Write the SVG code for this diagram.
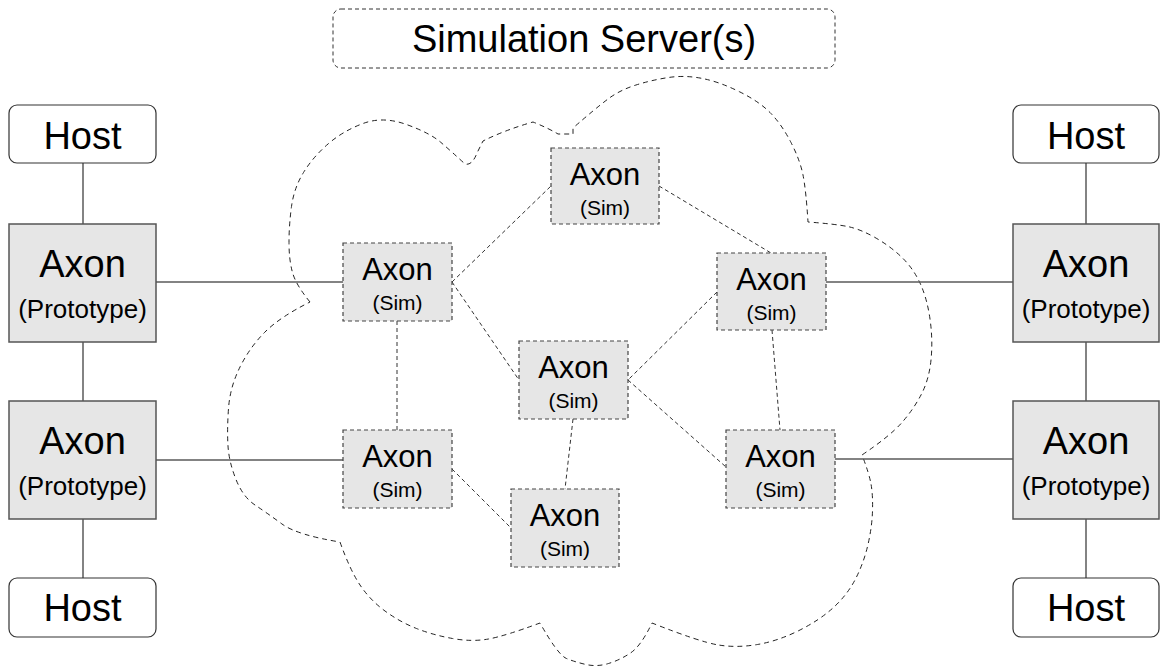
<svg xmlns="http://www.w3.org/2000/svg" width="1161" height="668" viewBox="0 0 1161 668">
<style>
text{font-family:"Liberation Sans",Arial,sans-serif;fill:#000;text-anchor:middle}
.host{fill:#fff;stroke:#333;stroke-width:1.2}
.proto{fill:#e6e6e6;stroke:#555;stroke-width:1.5}
.sim{fill:#e6e6e6;stroke:#444;stroke-width:1.2;stroke-dasharray:4 3}
.solid{stroke:#5a5a5a;stroke-width:1.5;fill:none}
.dash{stroke:#333;stroke-width:1;stroke-dasharray:4 3;fill:none}
.cloud{stroke:#222;stroke-width:1;stroke-dasharray:5 4;fill:none}
.big{font-size:38px}
.proto2{font-size:26px}
.ax{font-size:31px}
.sm{font-size:21px}
</style>
<rect width="1161" height="668" fill="#fff"/>
<g id="cloud">
<path class="cloud" d="M310,302 Q296,285 292.5,272.5 Q289,260 289,242.5 Q289,225 291.5,206.5 Q294,188 303.5,172.5 Q313,157 328,144 Q343,131 363,123.5 Q383,116 406.5,124.5 Q430,133 441,142.5 Q452,152 465,164 Q472,166 477,153 L483,141 Q505,130 533,122 Q548,128 558,134 L573,134 L573,128 Q596,108 608,99 Q620,90 636,85 Q652,80 668.5,77.5 Q685,75 702.5,78.5 Q720,82 740,92 Q760,102 771,113.5 Q782,125 791,142.5 Q800,160 803,175 Q806,190 808,222 Q835,224 847.5,226.5 Q860,229 875,237.5 Q890,246 901.5,257 Q913,268 920,283 Q927,298 930,319 Q933,340 931,360 Q929,380 921,395 Q913,410 901.5,423 Q890,436 862,455 Q869,473 871,484 Q873,495 872.5,511 Q872,527 868,544.5 Q864,562 856,578 Q848,594 834,607 Q820,620 799,630.5 Q778,641 757.5,644.5 Q737,648 718.5,645 Q700,642 652,623 Q641,646 630.5,653 Q620,660 608.5,663.5 Q597,667 586,664.5 Q575,662 566.5,658.5 Q558,655 540,623 Q505,636 488.5,639 Q472,642 452.5,638.5 Q433,635 416.5,628.5 Q400,622 385,611 Q370,600 360,585 Q350,570 340,542 Q297,535 282,524 Q267,513 255,505 Q243,497 236,479.5 Q229,462 228,446 Q227,430 228.5,408.5 Q230,387 240,367 Q250,347 265,332 Q280,317 310,302 Z"/>
</g>
<g id="connectors">
<line class="solid" x1="83" y1="163" x2="83" y2="224"/>
<line class="solid" x1="83" y1="342" x2="83" y2="401"/>
<line class="solid" x1="83" y1="519" x2="83" y2="578"/>
<line class="solid" x1="1086" y1="163" x2="1086" y2="224"/>
<line class="solid" x1="1086" y1="342" x2="1086" y2="401"/>
<line class="solid" x1="1086" y1="519" x2="1086" y2="578"/>
<line class="solid" x1="156" y1="282" x2="343" y2="282"/>
<line class="solid" x1="156" y1="460" x2="343" y2="460"/>
<line class="solid" x1="826" y1="282" x2="1013" y2="282"/>
<line class="solid" x1="835" y1="459" x2="1013" y2="459"/>
<line class="dash" x1="452" y1="282" x2="551" y2="186"/>
<line class="dash" x1="452" y1="282" x2="519" y2="380"/>
<line class="dash" x1="397" y1="321" x2="397" y2="430"/>
<line class="dash" x1="659" y1="186" x2="771" y2="253"/>
<line class="dash" x1="717" y1="292" x2="628" y2="380"/>
<line class="dash" x1="772" y1="330" x2="780" y2="430"/>
<line class="dash" x1="628" y1="380" x2="726" y2="467"/>
<line class="dash" x1="573" y1="419" x2="565" y2="489"/>
<line class="dash" x1="452" y1="469" x2="511" y2="528"/>
</g>
<g id="server">
<rect x="333" y="9" width="502" height="59" rx="8" fill="#fff" stroke="#333" stroke-width="1" stroke-dasharray="4 3"/>
<text x="584" y="52" style="font-size:38px">Simulation Server(s)</text>
</g>
<g id="host-tl"><rect class="host" x="9" y="105" width="147" height="58" rx="8"/><text class="big" x="82.5" y="149">Host</text></g>
<g id="host-bl"><rect class="host" x="9" y="578" width="147" height="59" rx="8"/><text class="big" x="82.5" y="621">Host</text></g>
<g id="host-tr"><rect class="host" x="1013" y="105" width="146" height="58" rx="8"/><text class="big" x="1086" y="149">Host</text></g>
<g id="host-br"><rect class="host" x="1013" y="578" width="146" height="59" rx="8"/><text class="big" x="1086" y="621">Host</text></g>
<g id="proto-tl"><rect class="proto" x="9" y="224" width="147" height="118"/><text class="big" x="82.5" y="277">Axon</text><text class="proto2" x="82.5" y="318">(Prototype)</text></g>
<g id="proto-bl"><rect class="proto" x="9" y="401" width="147" height="118"/><text class="big" x="82.5" y="454">Axon</text><text class="proto2" x="82.5" y="495">(Prototype)</text></g>
<g id="proto-tr"><rect class="proto" x="1013" y="224" width="146" height="118"/><text class="big" x="1086" y="277">Axon</text><text class="proto2" x="1086" y="318">(Prototype)</text></g>
<g id="proto-br"><rect class="proto" x="1013" y="401" width="146" height="118"/><text class="big" x="1086" y="454">Axon</text><text class="proto2" x="1086" y="495">(Prototype)</text></g>
<g id="sim-a"><rect class="sim" x="343" y="243" width="109" height="78"/><text class="ax" x="397.5" y="280">Axon</text><text class="sm" x="397.5" y="310">(Sim)</text></g>
<g id="sim-b"><rect class="sim" x="551" y="148" width="108" height="76"/><text class="ax" x="605" y="185">Axon</text><text class="sm" x="605" y="215">(Sim)</text></g>
<g id="sim-c"><rect class="sim" x="717" y="253" width="109" height="77"/><text class="ax" x="771.5" y="290">Axon</text><text class="sm" x="771.5" y="320">(Sim)</text></g>
<g id="sim-d"><rect class="sim" x="343" y="430" width="109" height="78"/><text class="ax" x="397.5" y="467">Axon</text><text class="sm" x="397.5" y="497">(Sim)</text></g>
<g id="sim-e"><rect class="sim" x="519" y="341" width="109" height="78"/><text class="ax" x="573.5" y="378">Axon</text><text class="sm" x="573.5" y="408">(Sim)</text></g>
<g id="sim-f"><rect class="sim" x="511" y="489" width="108" height="78"/><text class="ax" x="565" y="526">Axon</text><text class="sm" x="565" y="556">(Sim)</text></g>
<g id="sim-g"><rect class="sim" x="726" y="430" width="109" height="78"/><text class="ax" x="780.5" y="467">Axon</text><text class="sm" x="780.5" y="497">(Sim)</text></g>
</svg>
